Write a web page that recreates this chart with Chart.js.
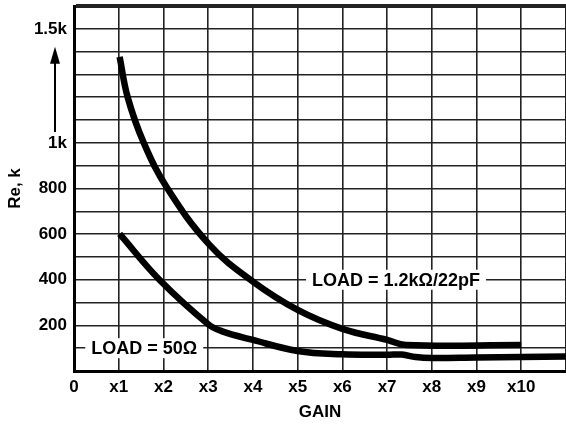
<!DOCTYPE html>
<html>
<head>
<meta charset="utf-8">
<script src="https://cdn.jsdelivr.net/npm/chart.js@4/dist/chart.umd.min.js"></script>
<style>
html,body{margin:0;padding:0;background:#fff;}
#wrap{width:566px;height:424px;position:relative;}
</style>
</head>
<body>
<div id="wrap"><canvas id="c" width="566" height="424"></canvas></div>
<script>
// Curve: LOAD = 1.2kΩ/22pF
const gainHigh = [1.02, 1.2, 1.56, 2.09, 3.03, 4.0, 5.0, 6.0, 7.0, 7.42, 10];
const reHigh   = [1377, 1200, 1000, 800, 553, 392, 268, 185, 136, 114, 114];
// Curve: LOAD = 50Ω
const gainLow = [1.02, 1.91, 3.0, 3.3, 4.0, 5.0, 6.0, 7.0, 7.33, 7.64, 8.0, 9.0, 10.0, 11];
const reLow   = [601, 400, 205, 175, 136, 88, 73, 71, 72, 61, 57, 59, 61, 64];

const xTickLabels = ['0','x1','x2','x3','x4','x5','x6','x7','x8','x9','x10',''];
const yTickValues = [200, 400, 600, 800, 1000, 1500];
const yTickLabels = ['200', '400', '600', '800', '1k', '1.5k'];

const seriesLabels = ['LOAD = 1.2kΩ/22pF', 'LOAD = 50Ω'];

const FAMILY = '"Liberation Sans", Arial, sans-serif';

const toXY = (xs, ys) => xs.map((x, i) => ({x: x, y: ys[i]}));

const annot = {
  id: 'annot',
  beforeDatasetsDraw(chart) {
    const {ctx, scales: {x, y}} = chart;
    const items = [
      {text: seriesLabels[1], gx: 1.57, v: 100},
      {text: seriesLabels[0], gx: 7.2, v: 400}
    ];
    ctx.save();
    ctx.font = 'bold 18px ' + FAMILY;
    ctx.textAlign = 'center';
    ctx.textBaseline = 'middle';
    items.forEach(it => {
      const px = x.getPixelForValue(it.gx);
      const py = y.getPixelForValue(it.v);
      const w = ctx.measureText(it.text).width;
      ctx.fillStyle = '#fff';
      ctx.fillRect(px - w / 2 - 6, py - 10, w + 12, 20);
      ctx.fillStyle = '#000';
      ctx.fillText(it.text, px, py + 1);
    });
    ctx.restore();
  },
  afterDraw(chart) {
    const {ctx, chartArea, scales: {y}} = chart;
    const ax = chartArea.left - 19;
    const yBot = y.getPixelForValue(1048);
    const yTop = y.getPixelForValue(1421);
    ctx.save();
    ctx.strokeStyle = '#000';
    ctx.fillStyle = '#000';
    ctx.lineWidth = 2;
    ctx.beginPath();
    ctx.moveTo(ax, yBot);
    ctx.lineTo(ax, yTop + 12);
    ctx.stroke();
    ctx.beginPath();
    ctx.moveTo(ax, yTop);
    ctx.lineTo(ax - 5, yTop + 17);
    ctx.lineTo(ax + 5, yTop + 17);
    ctx.closePath();
    ctx.fill();
    ctx.restore();
  }
};

const lineStyle = {showLine: true, borderColor: '#000', borderWidth: 6.5, pointRadius: 0, tension: 0.4, borderCapStyle: 'butt', borderJoinStyle: 'round'};

new Chart(document.getElementById('c'), {
  type: 'scatter',
  data: {
    datasets: [
      Object.assign({label: seriesLabels[0], data: toXY(gainHigh, reHigh)}, lineStyle),
      Object.assign({label: seriesLabels[1], data: toXY(gainLow, reLow)}, lineStyle)
    ]
  },
  options: {
    responsive: false,
    animation: false,
    layout: {padding: {top: 6, right: -2, left: 0, bottom: 0}},
    plugins: {legend: {display: false}, tooltip: {enabled: false}},
    scales: {
      x: {
        type: 'linear', min: 0, max: 11,
        afterBuildTicks: s => { s.ticks = xTickLabels.map((_, i) => ({value: i})); },
        ticks: {
          autoSkip: false, maxRotation: 0, padding: 6, color: '#000',
          font: {family: FAMILY, size: 17, weight: 'bold'},
          callback: v => xTickLabels[v]
        },
        grid: {color: '#222', lineWidth: 1.6, drawTicks: false},
        border: {color: '#000', width: 3},
        title: {display: true, text: 'GAIN', color: '#000', padding: {top: 0, bottom: 1},
          font: {family: FAMILY, size: 17, weight: 'bold'}},
        afterFit: s => { s.height = 53; s.paddingLeft = 0; s.paddingRight = 0; }
      },
      y: {
        type: 'linear', min: 0, max: 1600,
        afterBuildTicks: s => { const t = []; for (let v = 0; v <= 1600; v += 100) t.push({value: v}); s.ticks = t; },
        ticks: {
          autoSkip: false, padding: 7, color: '#000',
          font: {family: FAMILY, size: 17, weight: 'bold'},
          callback: v => { const i = yTickValues.indexOf(v); return i >= 0 ? yTickLabels[i] : ''; }
        },
        grid: {color: '#222', lineWidth: c => (c.tick && c.tick.value === 1600 ? 4 : 1.6), drawTicks: false},
        border: {color: '#000', width: 3},
        title: {display: true, text: 'Re, k', color: '#000', padding: {top: 5, bottom: 0},
          font: {family: FAMILY, size: 17, weight: 'bold'}},
        afterFit: s => { s.width = 74; s.paddingTop = 0; s.paddingBottom = 0; }
      }
    }
  },
  plugins: [annot]
});
</script>
</body>
</html>
